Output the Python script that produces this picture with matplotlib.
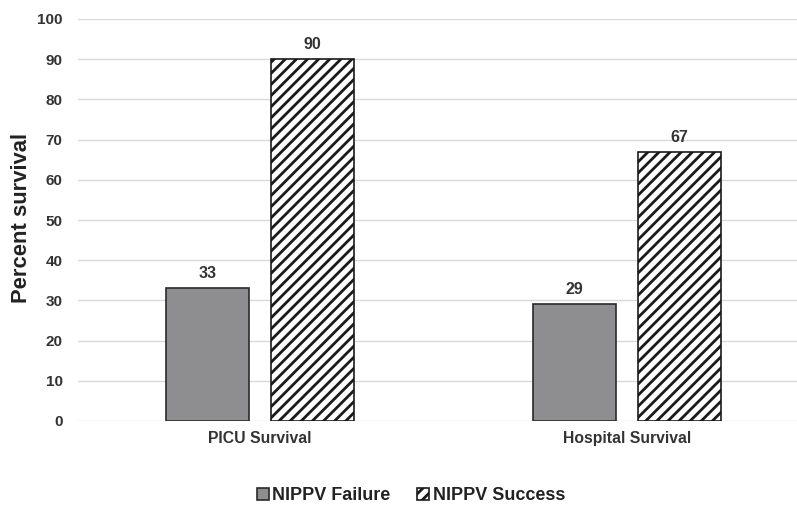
import matplotlib
matplotlib.use("Agg")
import matplotlib.pyplot as plt
import numpy as np

categories = ["PICU Survival", "Hospital Survival"]
series_names = ["NIPPV Failure", "NIPPV Success"]
failure = [33, 29]
success = [90, 67]
yticks = [0, 10, 20, 30, 40, 50, 60, 70, 80, 90, 100]

plt.rcParams['font.family'] = ['Liberation Sans', 'DejaVu Sans']
plt.rcParams['font.weight'] = 'bold'
plt.rcParams['hatch.linewidth'] = 2.0
plt.rcParams['hatch.color'] = '#000000'

W, H = 797, 507
fig = plt.figure(figsize=(W / 100, H / 100), dpi=100)
ax = fig.add_axes([78 / W, (H - 421) / H, (W - 78) / W, 402 / H])

x = np.arange(len(categories))
bw = 0.226
off = 0.143
b1 = ax.bar(x - off, failure, bw, color='#8e8e91', edgecolor='#2a2a2a', linewidth=1.2,
            label=series_names[0], zorder=3)
b2 = ax.bar(x + off, success, bw, color='white', edgecolor='#1a1a1a', linewidth=1.2,
            hatch='///', label=series_names[1], zorder=3)

for bars, vals in ((b1, failure), (b2, success)):
    for r, v in zip(bars, vals):
        ax.annotate(f"{v}", (r.get_x() + r.get_width() / 2, r.get_height()),
                    xytext=(0, 5), textcoords='offset points', ha='center', va='bottom',
                    fontsize=11.5, fontweight='bold', color='#333333')

ax.set_xlim(-0.496, 1.463)
ax.set_ylim(0, 100)
ax.set_yticks(yticks)
ax.set_xticks(x)
ax.set_xticklabels(categories, fontsize=11.3, fontweight='bold', color='#333333')
ax.tick_params(axis='both', length=0)
ax.tick_params(axis='y', pad=11, labelsize=11, labelcolor='#333333')
ax.tick_params(axis='x', pad=7)
for lab in ax.get_yticklabels():
    lab.set_fontweight('bold')
ax.grid(axis='y', color='#d9d9d9', linewidth=1, zorder=0)
ax.set_axisbelow(True)
for s in ax.spines.values():
    s.set_visible(False)

fig.text(22 / W, (H - 218) / H, "Percent survival", rotation=90, ha='center', va='center',
         fontsize=15.8, fontweight='bold', color='#222222')

leg = fig.legend(handles=[b1, b2], labels=series_names, loc='center',
                 bbox_to_anchor=(411 / W, 11 / H), ncol=2, frameon=False,
                 handlelength=0.65, handleheight=0.65, handletextpad=0.2, columnspacing=1.5,
                 prop={'size': 13, 'weight': 'bold'})
for t in leg.get_texts():
    t.set_color('#222222')

fig.savefig("out.png", dpi=100)
